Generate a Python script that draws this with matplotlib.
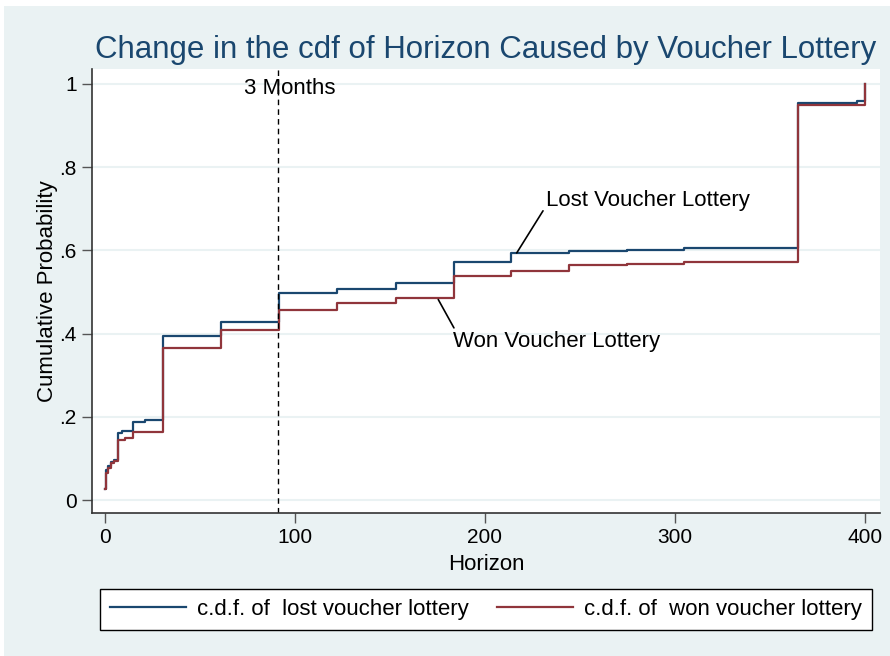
import matplotlib.pyplot as plt
from matplotlib.patches import Rectangle

plt.rcParams['font.family'] = ['Liberation Sans', 'DejaVu Sans']

# step points of the two c.d.f.s (x = horizon in days, y = cumulative probability)
lost_x = [0, 0.5, 1.7, 3, 4.7, 7, 9, 14.5, 21, 30.5, 61, 91.5, 122, 153, 183.5,
          213.5, 244, 275, 305, 365, 396, 400]
lost_y = [0.026, 0.072, 0.082, 0.092, 0.097, 0.162, 0.165, 0.188, 0.192, 0.395,
          0.427, 0.497, 0.507, 0.522, 0.571, 0.593, 0.599, 0.601, 0.607, 0.954,
          0.958, 1.0]

won_x = [0, 0.5, 1.7, 3, 4.7, 7, 10.5, 15, 30.5, 61, 91.5, 122, 153, 183.5,
         213.5, 244, 275, 305, 365, 400]
won_y = [0.026, 0.065, 0.077, 0.089, 0.094, 0.144, 0.150, 0.163, 0.366, 0.409,
         0.457, 0.473, 0.485, 0.539, 0.551, 0.565, 0.567, 0.572, 0.950, 1.0]

yticks = [0, 0.2, 0.4, 0.6, 0.8, 1]
ytick_labels = ['0', '.2', '.4', '.6', '.8', '1']
xticks = [0, 100, 200, 300, 400]
three_months = 91

navy = '#1a476f'
maroon = '#90353b'
bg = '#eaf2f3'

fig = plt.figure(figsize=(8.9, 6.56), dpi=100, facecolor='white')
fig.patches.append(Rectangle((4 / 890, 0), 1, 1 - 6 / 656, transform=fig.transFigure,
                             facecolor=bg, edgecolor='none', zorder=-10))

ax = fig.add_axes([92 / 890, 1 - 513 / 656, 788 / 890, 444 / 656])
ax.set_facecolor('white')

for y in yticks:
    ax.axhline(y, color=bg, lw=1.5, zorder=0)

ax.step(lost_x, lost_y, where='post', color=navy, lw=1.6, label='c.d.f. of  lost voucher lottery')
ax.step(won_x, won_y, where='post', color=maroon, lw=1.6, label='c.d.f. of  won voucher lottery')

ax.axvline(three_months, color='black', lw=1, ls=(0, (4, 3)))
ax.text(97.5, 0.99, '3 Months', fontsize=16, ha='center', va='center')

ax.annotate('Lost Voucher Lottery', xy=(216.7, 0.594), xytext=(232, 0.721),
            fontsize=16, va='center', ha='left',
            arrowprops=dict(arrowstyle='-', color='black', lw=1.2,
                            shrinkA=0, shrinkB=0, relpos=(0, 0.2)))
ax.annotate('Won Voucher Lottery', xy=(175.4, 0.482), xytext=(183.2, 0.382),
            fontsize=16, va='center', ha='left',
            arrowprops=dict(arrowstyle='-', color='black', lw=1.2,
                            shrinkA=0, shrinkB=0, relpos=(0.02, 0.85)))

ax.set_xlim(-6.84, 407.9)
ax.set_ylim(-0.031, 1.036)
ax.set_yticks(yticks)
ax.set_yticklabels(ytick_labels)
ax.set_xticks(xticks)
ax.tick_params(labelsize=15, length=7, width=1, color='#555555', pad=4)

for side in ['top', 'right']:
    ax.spines[side].set_visible(False)
for side in ['left', 'bottom']:
    ax.spines[side].set_color('#333333')
    ax.spines[side].set_linewidth(1.2)

ax.set_xlabel('Horizon', fontsize=16, labelpad=5)
ax.set_ylabel('Cumulative Probability', fontsize=16, labelpad=1)
ax.set_title('Change in the cdf of Horizon Caused by Voucher Lottery',
             fontsize=22.5, color=navy, pad=8)

leg = fig.legend(loc='center', bbox_to_anchor=(486 / 890, 1 - 609 / 656), ncol=2,
                 fontsize=16, handlelength=3.4, handletextpad=0.5, columnspacing=1.3,
                 fancybox=False, edgecolor='black', framealpha=1, borderpad=0.45,
                 borderaxespad=0)
leg.get_frame().set_linewidth(1)

plt.savefig('out.png', dpi=100, facecolor=fig.get_facecolor())
